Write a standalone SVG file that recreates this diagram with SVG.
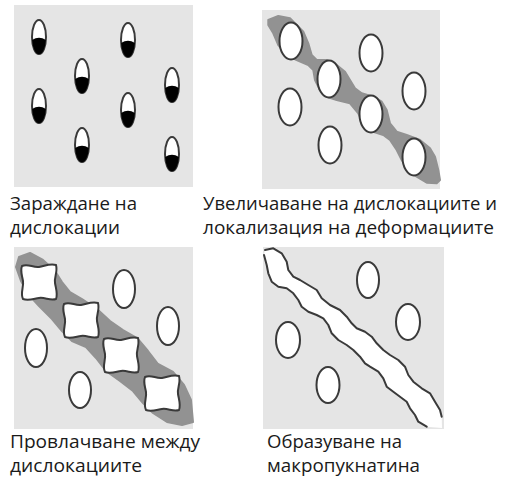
<svg xmlns="http://www.w3.org/2000/svg" width="505" height="479" viewBox="0 0 505 479">
  <style>
    .panel { fill: #e5e5e5; }
    .grain { fill: #ffffff; stroke: #3a3a3a; stroke-width: 2; }
    .core { fill: #000000; }
    .band { fill: #929292; stroke: #929292; stroke-width: 2; stroke-linejoin: round; }
    .crack-edge { fill: none; stroke: #3a3a3a; stroke-width: 2; stroke-linejoin: round; stroke-linecap: round; }
    .label { font-family: "Open Sans", "Liberation Sans", sans-serif; font-size: 18px; fill: #1a1a1a; }
  </style>
  <defs>
    <!-- grain with a dislocation pile-up at its lower end -->
    <g id="dislocation">
      <ellipse class="grain" cx="0" cy="0" rx="7" ry="17"/>
      <path class="core" d="M -6.9,3 Q 0,-1.5 6.9,3 A 7 17 0 0 1 -6.9,3 Z"/>
    </g>
    <!-- plain grain -->
    <ellipse id="grain" class="grain" cx="0" cy="0" rx="11.5" ry="18.5"/>
    <!-- grain deformed by slip (wavy outline) -->
    <path id="slipped" class="grain" d="M -17,-16 C -11,-19 -6,-14 0,-15 C 6,-16 11,-19 17,-17 C 19,-10 15,-5 16,1 C 17,7 19,12 17,17 C 11,19 6,15 0,16 C -6,17 -11,19 -16,17 C -19,11 -15,5 -16,-1 C -17,-7 -19,-11 -17,-16 Z"/>
  </defs>

  <!-- 1: nucleation of dislocations -->
  <g id="stage-nucleation">
    <rect class="panel" x="14" y="5" width="179" height="182"/>
    <use href="#dislocation" x="39" y="37"/>
    <use href="#dislocation" x="128" y="40"/>
    <use href="#dislocation" x="82" y="76"/>
    <use href="#dislocation" x="172" y="85"/>
    <use href="#dislocation" x="39" y="106"/>
    <use href="#dislocation" x="128" y="110"/>
    <use href="#dislocation" x="82" y="145"/>
    <use href="#dislocation" x="172" y="154"/>
    <text class="label" x="10" y="210" textLength="127" lengthAdjust="spacingAndGlyphs">Зараждане на</text>
    <text class="label" x="10" y="234" textLength="110" lengthAdjust="spacingAndGlyphs">дислокации</text>
  </g>

  <!-- 2: dislocation growth and strain localisation -->
  <g id="stage-localisation">
    <rect class="panel" x="262" y="10" width="178" height="179"/>
    <polygon class="band" points="268.3,20 278.3,16 290,18.3 303.3,31.7 308.3,43.3 311.7,55 316.7,60 326.7,60 336.7,65 345,71.7 350,80 355,88.3 361.7,93.3 373.3,96.7 381.7,101.7 386.7,110 390,123.3 396.7,131.7 406.7,135 420,140 430,148.3 435,156.7 438.3,170 440,180 436.7,183.3 426.7,182.7 416.7,176.7 408.3,170 401.7,160 396.7,150 390,140 383.3,135 373.3,131.7 363.3,125 358.3,113.3 350,103.3 336.7,100 326.7,96.7 320,90 315,80 313.3,70 308.3,65 296.7,60 286.7,55 278.3,45 273.3,33.3 268.3,25"/>
    <use href="#grain" x="291" y="41"/>
    <use href="#grain" x="329" y="79"/>
    <use href="#grain" x="371" y="53"/>
    <use href="#grain" x="414" y="91"/>
    <use href="#grain" x="290" y="107"/>
    <use href="#grain" x="371" y="114"/>
    <use href="#grain" x="330" y="145"/>
    <use href="#grain" x="414" y="157"/>
    <text class="label" x="203" y="210" textLength="294" lengthAdjust="spacingAndGlyphs">Увеличаване на дислокациите и</text>
    <text class="label" x="203" y="234" textLength="291" lengthAdjust="spacingAndGlyphs">локализация на деформациите</text>
  </g>

  <!-- 3: slip between dislocations -->
  <g id="stage-slip">
    <rect class="panel" x="14" y="247" width="179" height="182"/>
    <polygon class="band" points="19,257 30,253 43,260 55,271 62,282 70,292 82,299 97,309 110,321 123,330 137,338 148,351 158,364 173,372 184,385 191,400 193,422 182,425 167,422 153,413 143,403 133,391 120,381 106,371 96,358 86,347 72,341 62,331 52,319 39,306 29,295 21,281 16,267"/>
    <use href="#slipped" x="39" y="282"/>
    <use href="#slipped" x="81" y="320"/>
    <use href="#slipped" x="121" y="355"/>
    <use href="#slipped" x="162" y="393"/>
    <ellipse class="grain" cx="124" cy="289" rx="11" ry="19"/>
    <ellipse class="grain" cx="168" cy="326" rx="11" ry="19"/>
    <ellipse class="grain" cx="36" cy="348" rx="11" ry="19"/>
    <ellipse class="grain" cx="80" cy="390" rx="11" ry="18"/>
    <text class="label" x="10" y="448" textLength="190" lengthAdjust="spacingAndGlyphs">Провлачване между</text>
    <text class="label" x="10" y="472" textLength="132" lengthAdjust="spacingAndGlyphs">дислокациите</text>
  </g>

  <!-- 4: macro-crack formation -->
  <g id="stage-crack">
    <rect class="panel" x="263" y="247" width="181" height="182"/>
    <polygon fill="#ffffff" points="265,250 273.3,248.3 281.7,253.3 286.7,261.7 288.3,270 293.3,276.7 300,280 308.3,285 316.7,290 321.7,298.3 330,305 340,310 346.7,316.7 351.7,323.3 356.7,328.3 365,331.7 371.7,336.7 376.7,343.3 383.3,350 390,355 398.3,360 405,366.7 408.3,375 413.3,381.7 421.7,388.3 430,393.3 435,401.7 440,410 441.7,416.7 442,428 426.7,426.7 418.3,421.7 415,415 410,408.3 406.7,401.7 400,396.7 393.3,391.7 386.7,386.7 383.3,378.3 378.3,371.7 370,366.7 365,363.3 360,356.7 353.3,350 346.7,345 338.3,340 331.7,333.3 328.3,325 323.3,318.3 316.7,315 308.3,311.7 301.7,306.7 298.3,300 293.3,293.3 286.7,288.3 278.3,286.7 271.7,281.7 268.3,273.3 266.7,265 264,255"/>
    <polyline class="crack-edge" points="265,250 273.3,248.3 281.7,253.3 286.7,261.7 288.3,270 293.3,276.7 300,280 308.3,285 316.7,290 321.7,298.3 330,305 340,310 346.7,316.7 351.7,323.3 356.7,328.3 365,331.7 371.7,336.7 376.7,343.3 383.3,350 390,355 398.3,360 405,366.7 408.3,375 413.3,381.7 421.7,388.3 430,393.3 435,401.7 440,410 441.7,416.7"/>
    <polyline class="crack-edge" points="264,255 266.7,265 268.3,273.3 271.7,281.7 278.3,286.7 286.7,288.3 293.3,293.3 298.3,300 301.7,306.7 308.3,311.7 316.7,315 323.3,318.3 328.3,325 331.7,333.3 338.3,340 346.7,345 353.3,350 360,356.7 365,363.3 370,366.7 378.3,371.7 383.3,378.3 386.7,386.7 393.3,391.7 400,396.7 406.7,401.7 410,408.3 415,415 418.3,421.7 426.7,426.7"/>
    <ellipse class="grain" cx="368" cy="280" rx="11" ry="18"/>
    <ellipse class="grain" cx="408" cy="322" rx="12" ry="18"/>
    <ellipse class="grain" cx="288" cy="340" rx="12" ry="18"/>
    <ellipse class="grain" cx="328" cy="385" rx="11.5" ry="18"/>
    <text class="label" x="267" y="448" textLength="135" lengthAdjust="spacingAndGlyphs">Образуване на</text>
    <text class="label" x="267" y="472" textLength="153" lengthAdjust="spacingAndGlyphs">макропукнатина</text>
  </g>
</svg>
